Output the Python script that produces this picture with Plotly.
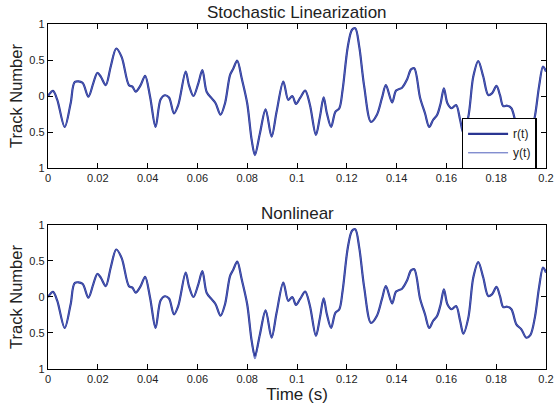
import plotly.graph_objects as go
from plotly.subplots import make_subplots

# time samples (s) and track values
t = [0.000, 0.002, 0.0037, 0.0067, 0.0091, 0.0108, 0.0138, 0.0162, 0.0182, 0.0198,
     0.0212, 0.0232, 0.0252, 0.0274, 0.0296, 0.0325, 0.0339, 0.0352, 0.0372, 0.039,
     0.041, 0.0432, 0.0452, 0.0469, 0.0486, 0.0506, 0.0523, 0.0553, 0.0566, 0.0584,
     0.0604, 0.062, 0.0637, 0.0657, 0.0673, 0.0693, 0.0711, 0.0731, 0.0744, 0.076,
     0.0778, 0.080, 0.0818, 0.0831, 0.0851, 0.0874, 0.0898, 0.0918, 0.0945, 0.0965,
     0.0981, 0.0996, 0.1012, 0.1033, 0.1052, 0.1076, 0.1092, 0.1107, 0.112, 0.1137,
     0.1154, 0.117, 0.1183, 0.1204, 0.1221, 0.1234, 0.125, 0.127, 0.1297, 0.1321,
     0.1341, 0.1357, 0.1382, 0.1398, 0.1422, 0.1442, 0.1458, 0.1471, 0.1494, 0.1514,
     0.1531, 0.1547, 0.1563, 0.1577, 0.159, 0.1604, 0.1621, 0.1639, 0.1655, 0.1668,
     0.1688, 0.1708, 0.1728, 0.1748, 0.1768, 0.1784, 0.1801, 0.1815, 0.1828, 0.1844,
     0.1861, 0.1881, 0.1901, 0.1921, 0.1937, 0.1955, 0.1972, 0.1988, 0.200]

r_vals = [0.00, 0.07, -0.05, -0.43, -0.10, 0.195, 0.185, -0.01, 0.18, 0.32,
          0.27, 0.15, 0.41, 0.66, 0.54, 0.15, 0.13, 0.06, 0.15, 0.28,
          -0.01, -0.43, -0.05, 0.01, -0.02, -0.24, -0.125, 0.34, 0.15, 0.00,
          0.18, 0.36, 0.06, -0.03, -0.10, -0.26, -0.10, 0.29, 0.38, 0.49,
          0.245, -0.10, -0.61, -0.82, -0.52, -0.185, -0.565, -0.22, 0.20, -0.055,
          0.00, -0.11, -0.03, 0.075, -0.125, -0.54, -0.29, -0.02, -0.24, -0.43,
          -0.22, -0.17, 0.08, 0.685, 0.92, 0.94, 0.685, 0.13, -0.36, -0.26,
          -0.03, 0.15, -0.09, 0.075, 0.115, 0.23, 0.37, 0.385, -0.02, -0.24,
          -0.43, -0.33, -0.26, -0.10, 0.105, -0.10, -0.17, -0.125, -0.33, -0.51,
          -0.29, 0.27, 0.485, 0.27, 0.015, 0.04, 0.14, 0.015, -0.14, -0.135,
          -0.17, -0.38, -0.45, -0.565, -0.53, -0.29, 0.13, 0.41, 0.34]

# tracker output (stochastic linearization follows r(t) closely)
y_lin = list(r_vals)
# nonlinear tracker output: a slightly deeper dip near t = 0.083 s
y_nl = list(r_vals)
y_nl[43] = -0.86

x_ticks = [0, 0.02, 0.04, 0.06, 0.08, 0.1, 0.12, 0.14, 0.16, 0.18, 0.2]
x_ticktext = ["0", "0.02", "0.04", "0.06", "0.08", "0.1", "0.12", "0.14", "0.16", "0.18", "0.2"]
y_ticks = [-1, -0.5, 0, 0.5, 1]
y_ticktext = ["1", "0.5", "0", "0.5", "1"]

R_COLOR = "#2a3592"
Y_COLOR = "#4f5fbb"
FONT = "Liberation Sans, Arial, sans-serif"
TXT = "#222222"

fig = make_subplots(rows=2, cols=1, vertical_spacing=0.165)

line_r = dict(color=R_COLOR, width=2.2, shape="spline", smoothing=0.9)
line_y = dict(color=Y_COLOR, width=1.0, shape="spline", smoothing=0.9)

fig.add_trace(go.Scatter(x=t, y=r_vals, mode="lines", name="r(t)", line=line_r), row=1, col=1)
fig.add_trace(go.Scatter(x=t, y=y_lin, mode="lines", name="y(t)", line=line_y), row=1, col=1)
fig.add_trace(go.Scatter(x=t, y=r_vals, mode="lines", name="r(t)", showlegend=False, line=line_r), row=2, col=1)
fig.add_trace(go.Scatter(x=t, y=y_nl, mode="lines", name="y(t)", showlegend=False, line=line_y), row=2, col=1)

axis_common = dict(showgrid=False, zeroline=False, showline=True, linecolor="black", linewidth=1.3,
                   mirror="allticks", ticks="inside", ticklen=5, tickcolor="black", tickwidth=1,
                   automargin=False,
                   tickfont=dict(family=FONT, size=11, color=TXT))

for r in (1, 2):
    fig.update_xaxes(range=[0, 0.2], tickvals=x_ticks, ticktext=x_ticktext, row=r, col=1, **axis_common)
    fig.update_yaxes(range=[-1, 1], tickvals=y_ticks, ticktext=y_ticktext, row=r, col=1, **axis_common)
    fig.update_yaxes(title=dict(text="Track Number", font=dict(family=FONT, size=16.5, color=TXT), standoff=2),
                     row=r, col=1)

fig.update_xaxes(title=dict(text="Time (s)", font=dict(family=FONT, size=17, color=TXT), standoff=0), row=2, col=1)

fig.update_layout(
    width=556, height=410,
    margin=dict(l=48, r=10, t=24, b=41),
    paper_bgcolor="white", plot_bgcolor="white",
    font=dict(family=FONT, color=TXT),
    yaxis=dict(domain=[0.5826, 1.0]),
    yaxis2=dict(domain=[0.0, 0.4174]),
    showlegend=True,
    legend=dict(x=0.9815, y=0.6536, xanchor="right", yanchor="middle",
                bgcolor="white", bordercolor="black", borderwidth=1.3,
                font=dict(family=FONT, size=12, color=TXT),
                tracegroupgap=0, itemwidth=40),
    annotations=[
        dict(text="Stochastic Linearization", x=0.5, y=1.0, xref="paper", yref="paper",
             xanchor="center", yanchor="bottom", yshift=0, showarrow=False,
             font=dict(family=FONT, size=17, color=TXT)),
        dict(text="Nonlinear", x=0.5, y=0.4174, xref="paper", yref="paper",
             xanchor="center", yanchor="bottom", yshift=0, showarrow=False,
             font=dict(family=FONT, size=17, color=TXT)),
    ],
)

fig.write_html("out.html")
